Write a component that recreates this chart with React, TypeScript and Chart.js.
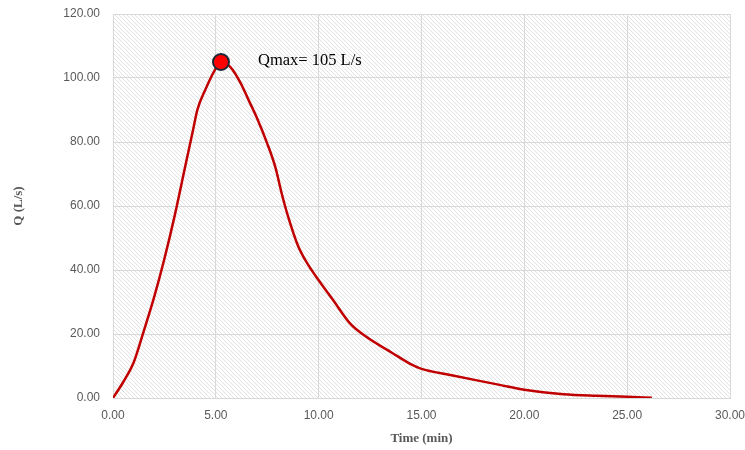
import React, { useEffect, useRef } from "react";
import { Chart, registerables } from "chart.js";

Chart.register(...registerables);

// Hydrograph data
const timeMin = [0, 0.5, 1.0, 1.5, 2.0, 2.5, 3.0, 3.5, 3.9, 4.1, 4.5, 5.0, 5.25, 5.7, 6.2, 6.6, 7.0, 7.5, 7.9, 8.2, 8.5, 9.0, 9.5, 10.0, 10.7, 11.5, 12.3, 13.6, 14.5, 15.0, 16.4, 17.7, 18.8, 20.0, 21.9, 23.5, 25.0, 26.2];
const flowLs = [0, 5, 11, 21, 31.5, 43.5, 57, 72, 84, 90, 96.5, 103, 105, 103.5, 98.5, 93, 87.5, 79.5, 72, 64, 57, 47.5, 41.5, 36.8, 30.6, 23.5, 19.2, 14, 10.5, 9.1, 7.2, 5.5, 4.1, 2.6, 1.2, 0.7, 0.4, 0.05];

const peakTime = [5.25];
const peakFlow = [105];
const peakLabel = "Qmax= 105 L/s";

const xTitle = "Time (min)";
const yTitle = "Q (L/s)";

function makeHatch(): CanvasPattern | string {
  const c = document.createElement("canvas");
  c.width = 4;
  c.height = 4;
  const g = c.getContext("2d");
  if (!g) return "#f2f2f2";
  g.fillStyle = "#ffffff";
  g.fillRect(0, 0, 4, 4);
  g.fillStyle = "#e2e2e2";
  for (let i = 0; i < 4; i++) g.fillRect(i, i, 1, 1);
  const p = g.createPattern(c, "repeat");
  return p || "#f2f2f2";
}

export default function App() {
  const ref = useRef<HTMLCanvasElement | null>(null);

  useEffect(() => {
    if (!ref.current) return;
    const hatch = makeHatch();

    const bgPlugin = {
      id: "hatchBg",
      beforeDraw(chart: any) {
        const { ctx, chartArea } = chart;
        ctx.save();
        ctx.fillStyle = hatch;
        ctx.fillRect(chartArea.left, chartArea.top, chartArea.right - chartArea.left, chartArea.bottom - chartArea.top);
        ctx.restore();
      },
    };

    const labelPlugin = {
      id: "peakLabel",
      afterDatasetsDraw(chart: any) {
        const { ctx, scales } = chart;
        const x = scales.x.getPixelForValue(peakTime[0]) + 37;
        const y = scales.y.getPixelForValue(peakFlow[0]) - 1;
        ctx.save();
        ctx.font = '16.5px "Liberation Serif", "Times New Roman", serif';
        ctx.fillStyle = "#000000";
        ctx.textAlign = "left";
        ctx.textBaseline = "middle";
        ctx.fillText(peakLabel, x, y);
        ctx.restore();
      },
    };

    const chart = new Chart(ref.current, {
      type: "line",
      data: {
        datasets: [
          {
            label: "Peak",
            data: peakTime.map((t, i) => ({ x: t, y: peakFlow[i] })),
            showLine: false,
            pointRadius: 8,
            pointBorderWidth: 2,
            pointBackgroundColor: "#ff0000",
            pointBorderColor: "#1b2838",
            order: 0,
          },
          {
            label: "Q",
            data: timeMin.map((t, i) => ({ x: t, y: flowLs[i] })),
            borderColor: "#c00000",
            borderWidth: 2.5,
            pointRadius: 0,
            cubicInterpolationMode: "monotone",
            fill: false,
            order: 1,
          },
        ],
      },
      options: {
        animation: false,
        responsive: true,
        maintainAspectRatio: false,
        layout: { padding: { left: 0, top: 14, right: 15, bottom: 0 } },
        plugins: {
          legend: { display: false },
          tooltip: { enabled: false },
        },
        scales: {
          x: {
            type: "linear",
            min: 0,
            max: 30,
            afterFit: (s: any) => {
              s.height = 52;
              s.paddingLeft = 0;
              s.paddingRight = 0;
            },
            border: { display: true, color: "#d9d9d9" },
            grid: { color: "#d9d9d9", drawTicks: false },
            ticks: {
              stepSize: 5,
              padding: 10,
              color: "#595959",
              font: { family: '"Liberation Sans", Arial, sans-serif', size: 12 },
              callback: (v: any) => Number(v).toFixed(2),
            },
            title: {
              display: true,
              text: xTitle,
              color: "#595959",
              padding: { top: 4, bottom: 4 },
              font: { family: '"Liberation Serif", "Times New Roman", serif', size: 13, weight: "bold" },
            },
          },
          y: {
            type: "linear",
            min: 0,
            max: 120,
            afterFit: (s: any) => {
              s.width = 113;
              s.paddingTop = 0;
              s.paddingBottom = 0;
            },
            border: { display: true, color: "#d9d9d9" },
            grid: { color: "#d9d9d9", drawTicks: false },
            ticks: {
              stepSize: 20,
              padding: 13,
              color: "#595959",
              font: { family: '"Liberation Sans", Arial, sans-serif', size: 12 },
              callback: (v: any) => Number(v).toFixed(2),
            },
            title: {
              display: true,
              text: yTitle,
              color: "#595959",
              padding: { top: 11, bottom: 4 },
              font: { family: '"Liberation Serif", "Times New Roman", serif', size: 13, weight: "bold" },
            },
          },
        },
      },
      plugins: [bgPlugin, labelPlugin],
    } as any);

    return () => chart.destroy();
  }, []);

  return (
    <div style={{ position: "fixed", left: 0, top: 0, width: 745, height: 450, background: "#ffffff" }}>
      <canvas ref={ref} />
    </div>
  );
}
